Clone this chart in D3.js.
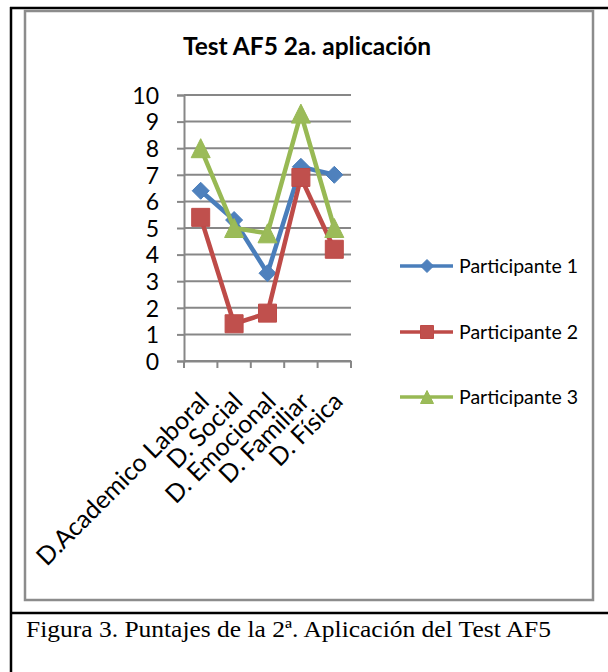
<!DOCTYPE html>
<html>
<head>
<meta charset="utf-8">
<script src="https://cdn.jsdelivr.net/npm/d3@7"></script>
<style>
  html, body { margin: 0; padding: 0; background: #fff; }
  svg { display: block; }
</style>
</head>
<body>
<svg id="chart" width="608" height="672"></svg>
<script>
// ---- data ----
const categories = ["D.Academico Laboral", "D. Social", "D. Emocional", "D. Familiar", "D. Física"];
const participante1 = [6.4, 5.3, 3.3, 7.3, 7.0];
const participante2 = [5.4, 1.4, 1.8, 6.9, 4.2];
const participante3 = [8.0, 5.0, 4.8, 9.3, 5.0];
const seriesNames = ["Participante 1", "Participante 2", "Participante 3"];
const yTickValues = [0, 1, 2, 3, 4, 5, 6, 7, 8, 9, 10];
const chartTitle = "Test AF5 2a. aplicación";
const caption = "Figura 3. Puntajes de la 2ª. Aplicación del Test AF5";

const series = [
  { name: seriesNames[0], values: participante1, line: "#4A7EBB", fill: "#4F81BD", marker: "diamond" },
  { name: seriesNames[1], values: participante2, line: "#BE4B48", fill: "#C0504D", marker: "square" },
  { name: seriesNames[2], values: participante3, line: "#98B954", fill: "#9BBB59", marker: "triangle" }
];

const svg = d3.select("#chart");
const FONT = "Lato, 'Open Sans', sans-serif";

// ---- frames ----
svg.append("line").attr("x1", 10).attr("x2", 608).attr("y1", 8).attr("y2", 8)
  .attr("stroke", "#000").attr("stroke-width", 2.5);
svg.append("line").attr("x1", 11).attr("x2", 11).attr("y1", 7).attr("y2", 672)
  .attr("stroke", "#000").attr("stroke-width", 2.5);
svg.append("line").attr("x1", 10).attr("x2", 608).attr("y1", 613).attr("y2", 613)
  .attr("stroke", "#000").attr("stroke-width", 2.5);
svg.append("rect").attr("x", 25).attr("y", 11).attr("width", 568).attr("height", 589)
  .attr("fill", "none").attr("stroke", "#8c8c8c").attr("stroke-width", 2.5);

// ---- scales ----
const x = d3.scaleBand().domain(categories).range([184, 351]);
const y = d3.scaleLinear().domain([0, 10]).range([361, 95]);
const cx = c => x(c) + x.bandwidth() / 2;

// ---- title ----
svg.append("text").attr("x", 307).attr("y", 55).attr("text-anchor", "middle")
  .attr("font-family", FONT).attr("font-weight", "bold").attr("font-size", 24.5)
  .attr("fill", "#000").text(chartTitle);

// ---- grid ----
const gGrid = svg.append("g");
gGrid.selectAll("line").data(yTickValues).join("line")
  .attr("x1", 184).attr("x2", 351)
  .attr("y1", d => y(d)).attr("y2", d => y(d))
  .attr("stroke", "#878787").attr("stroke-width", 2);

// ---- y axis ----
const yAxis = d3.axisLeft(y).tickValues(yTickValues).tickSize(7).tickPadding(6).tickFormat(d3.format("d"));
const gy = svg.append("g").attr("transform", "translate(184,0)").call(yAxis);
gy.select(".domain").attr("stroke", "#878787").attr("stroke-width", 2);
gy.selectAll(".tick line").attr("stroke", "#878787").attr("stroke-width", 2);
gy.selectAll(".tick text").attr("font-family", FONT).attr("font-size", 23).attr("fill", "#000")
  .attr("x", -25).attr("dy", "0.36em");

// ---- x axis ----
const xAxis = d3.axisBottom(x).tickSize(0).tickSizeOuter(0);
const gx = svg.append("g").attr("transform", "translate(0,361)").call(xAxis);
gx.select(".domain").attr("stroke", "#878787").attr("stroke-width", 2);
gx.selectAll(".tick line").remove();
gx.selectAll(".tick text")
  .attr("font-family", FONT).attr("font-size", 25).attr("fill", "#000")
  .attr("text-anchor", "end").attr("dy", 0).attr("y", 0)
  .attr("transform", "translate(10,42) rotate(-45)");
// category boundary ticks
const bounds = categories.map(c => x(c)).concat([x(categories[categories.length - 1]) + x.bandwidth()]);
gx.selectAll(".bt").data(bounds).join("line").attr("class", "bt")
  .attr("x1", d => d).attr("x2", d => d).attr("y1", 0).attr("y2", 7)
  .attr("stroke", "#878787").attr("stroke-width", 2);

// ---- markers ----
function markerPath(type, s) {
  const h = s / 2;
  if (type === "diamond") return `M0,${-h}L${h},0L0,${h}L${-h},0Z`;
  if (type === "square") return `M${-h},${-h}H${h}V${h}H${-h}Z`;
  return `M0,${-h}L${h},${h}L${-h},${h}Z`;
}
const markerSize = { diamond: 17, square: 18, triangle: 19 };

const line = d3.line().x((d, i) => cx(categories[i])).y(d => y(d));

series.forEach(s => {
  const g = svg.append("g");
  g.append("path").datum(s.values).attr("d", line)
    .attr("fill", "none").attr("stroke", s.line).attr("stroke-width", 4.5)
    .attr("stroke-linejoin", "round");
  g.selectAll("path.m").data(s.values).join("path").attr("class", "m")
    .attr("d", markerPath(s.marker, markerSize[s.marker]))
    .attr("transform", (d, i) => `translate(${cx(categories[i])},${y(d)})`)
    .attr("fill", s.fill).attr("stroke", s.line).attr("stroke-width", 1);
});

// ---- legend ----
const legendY = [266, 332, 397];
const lg = svg.append("g");
series.forEach((s, i) => {
  const yy = legendY[i];
  lg.append("line").attr("x1", 400).attr("x2", 453).attr("y1", yy).attr("y2", yy)
    .attr("stroke", s.line).attr("stroke-width", 3.5);
  lg.append("path").attr("d", markerPath(s.marker, 13))
    .attr("transform", `translate(427,${yy})`).attr("fill", s.fill).attr("stroke", s.line).attr("stroke-width", 1);
  lg.append("text").attr("x", 459).attr("y", yy).attr("dy", "0.36em")
    .attr("font-family", FONT).attr("font-size", 19.5).attr("fill", "#000").text(s.name);
});

// ---- caption ----
svg.append("text").attr("x", 26).attr("y", 637)
  .attr("font-family", "'Liberation Serif', 'Times New Roman', serif").attr("font-size", 23)
  .attr("textLength", 525).attr("lengthAdjust", "spacingAndGlyphs")
  .attr("fill", "#000").text(caption);
</script>
</body>
</html>
